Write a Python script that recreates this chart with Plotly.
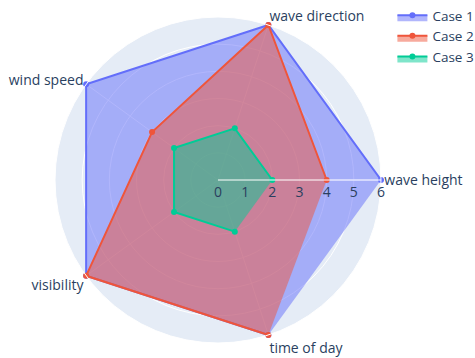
import plotly.graph_objects as go

categories = ["wave height", "wave direction", "wind speed", "visibility", "time of day"]
case1 = [6, 6, 6, 6, 6]
case2 = [4, 6, 3, 6, 6]
case3 = [2, 2, 2, 2, 2]

fig = go.Figure()
for name, vals in [("Case 1", case1), ("Case 2", case2), ("Case 3", case3)]:
    fig.add_trace(go.Scatterpolar(r=vals, theta=categories, fill="toself", name=name))

fig.update_layout(
    width=475, height=358,
    template="plotly",
    font=dict(size=14),
    margin=dict(l=55, r=94, t=17, b=15, autoexpand=False),
    polar=dict(radialaxis=dict(visible=True, range=[0, 6])),
    legend=dict(x=1.035, y=1.052, font=dict(size=13.5)),
    showlegend=True,
)
fig.write_html("out.html", config={"displayModeBar": False},
               post_script="document.body.style.margin='0';")
